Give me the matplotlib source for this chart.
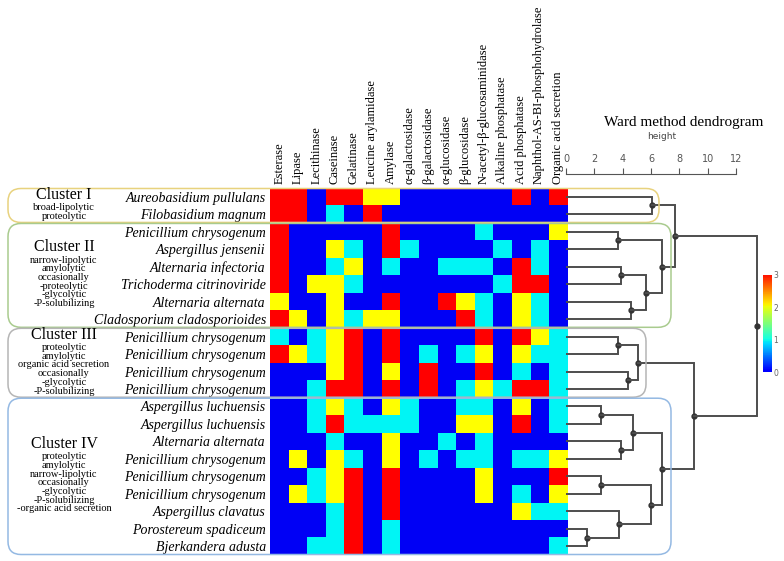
import numpy as np
import matplotlib
matplotlib.use('Agg')
import matplotlib.pyplot as plt
from matplotlib.colors import ListedColormap, LinearSegmentedColormap, Normalize
from matplotlib.patches import FancyBboxPatch
import matplotlib.cm as cm

serif = ['Liberation Serif', 'DejaVu Serif']

# --- data -------------------------------------------------------------
enzymes = ['Esterase', 'Lipase', 'Lecithinase', 'Caseinase', 'Gelatinase',
           'Leucine arylamidase', 'Amylase', 'α-galactosidase', 'β-galactosidase',
           'α-glucosidase', 'β-glucosidase', 'N-acetyl-β-glucosaminidase',
           'Alkaline phosphatase', 'Acid phosphatase',
           'Naphthol-AS-BI-phosphohydrolase', 'Organic acid secretion']

species = ['Aureobasidium pullulans', 'Filobasidium magnum',
           'Penicillium chrysogenum', 'Aspergillus jensenii', 'Alternaria infectoria',
           'Trichoderma citrinoviride', 'Alternaria alternata',
           'Cladosporium cladosporioides',
           'Penicillium chrysogenum', 'Penicillium chrysogenum',
           'Penicillium chrysogenum', 'Penicillium chrysogenum',
           'Aspergillus luchuensis', 'Aspergillus luchuensis', 'Alternaria alternata',
           'Penicillium chrysogenum', 'Penicillium chrysogenum',
           'Penicillium chrysogenum', 'Aspergillus clavatus',
           'Porostereum spadiceum', 'Bjerkandera adusta']

activity = np.array([
    [3, 3, 0, 3, 3, 2, 2, 0, 0, 0, 0, 0, 0, 3, 0, 3],
    [3, 3, 0, 1, 0, 3, 0, 0, 0, 0, 0, 0, 0, 0, 0, 0],
    [3, 0, 0, 0, 0, 0, 3, 0, 0, 0, 0, 1, 0, 0, 0, 2],
    [3, 0, 0, 2, 1, 0, 3, 1, 0, 0, 0, 0, 1, 0, 1, 0],
    [3, 0, 0, 1, 2, 0, 1, 0, 0, 1, 1, 1, 0, 3, 1, 0],
    [3, 0, 2, 2, 1, 0, 0, 0, 0, 0, 0, 0, 1, 3, 3, 0],
    [2, 0, 0, 2, 0, 0, 3, 0, 0, 3, 2, 1, 0, 2, 1, 0],
    [3, 2, 0, 2, 1, 2, 2, 0, 0, 0, 3, 1, 0, 2, 1, 0],
    [1, 0, 1, 2, 3, 0, 3, 0, 0, 0, 0, 3, 0, 3, 2, 1],
    [3, 2, 1, 2, 3, 0, 3, 0, 1, 0, 1, 2, 0, 2, 1, 1],
    [0, 0, 0, 2, 3, 0, 2, 0, 3, 0, 0, 3, 0, 1, 0, 1],
    [0, 0, 1, 3, 3, 0, 3, 0, 3, 0, 1, 2, 1, 3, 3, 1],
    [0, 0, 1, 2, 1, 0, 2, 1, 0, 0, 1, 1, 0, 2, 0, 1],
    [0, 0, 1, 3, 1, 1, 1, 1, 0, 0, 2, 2, 0, 3, 0, 1],
    [0, 0, 0, 1, 0, 0, 2, 0, 0, 1, 0, 1, 0, 0, 0, 0],
    [0, 2, 0, 2, 1, 0, 2, 0, 1, 0, 1, 1, 0, 1, 1, 2],
    [0, 0, 1, 2, 3, 0, 3, 0, 0, 0, 0, 2, 0, 0, 0, 3],
    [0, 2, 1, 2, 3, 0, 3, 0, 0, 0, 0, 2, 0, 1, 0, 2],
    [0, 0, 0, 1, 3, 0, 3, 0, 0, 0, 0, 0, 0, 2, 1, 1],
    [0, 0, 0, 1, 3, 0, 1, 0, 0, 0, 0, 0, 0, 0, 0, 0],
    [0, 0, 1, 1, 3, 0, 1, 0, 0, 0, 0, 0, 0, 0, 0, 1],
])

# ward merges: (child a, child b, height); leaves 0..20, new nodes 21..
merges = [
    (0, 1, 6.05), (2, 3, 3.65), (4, 5, 3.9), (6, 7, 4.6), (23, 24, 5.65),
    (22, 25, 6.8), (21, 26, 7.7), (8, 9, 3.65), (10, 11, 4.4), (28, 29, 5.05),
    (12, 13, 2.47), (14, 15, 3.9), (31, 32, 4.7), (16, 17, 2.47), (19, 20, 1.45),
    (18, 35, 3.75), (34, 36, 6.0), (33, 37, 6.75), (30, 38, 9.05), (27, 39, 13.45),
]

cluster_names = ['Cluster I', 'Cluster II', 'Cluster III', 'Cluster IV']
cluster_rows = [(0, 2), (2, 8), (8, 12), (12, 21)]
cluster_desc = [
    ['broad-lipolytic', 'proteolytic'],
    ['narrow-lipolytic', 'amylolytic', 'occasionally', '-proteolytic',
     '-glycolytic', '-P-solubilizing'],
    ['proteolytic', 'amylolytic', 'organic acid secretion', 'occasionally',
     '-glycolytic', '-P-solubilizing'],
    ['proteolytic', 'amylolytic', 'narrow-lipolytic', 'occasionally',
     '-glycolytic', '-P-solubilizing', '-organic acid secretion'],
]
cluster_colors = ['#E8D27E', '#A9CB8E', '#B5B5B5', '#94B9E3']

# --- layout (pixels) ---------------------------------------------------
W, H = 784, 561
hx0, hx1, hy0, hy1 = 270, 567, 188, 555
row_h = (hy1 - hy0) / len(species)
px_per_unit = 14.17

fig = plt.figure(figsize=(W / 100, H / 100), dpi=100)

def fax(x0, y0, x1, y1, **kw):
    return fig.add_axes([x0 / W, 1 - y1 / H, (x1 - x0) / W, (y1 - y0) / H], **kw)

# heatmap
cmap_cells = ListedColormap(['#0000F5', '#00F5F5', '#FFFF00', '#FF0000'])
ax_h = fax(hx0, hy0, hx1, hy1)
ax_h.imshow(activity, cmap=cmap_cells, vmin=-0.5, vmax=3.5, aspect='auto',
            interpolation='nearest')
ax_h.xaxis.tick_top()
ax_h.set_xticks(range(len(enzymes)))
ax_h.set_xticklabels(enzymes, rotation=90, fontsize=9, family=serif)
ax_h.set_yticks(range(len(species)))
ax_h.set_yticklabels(species, fontsize=10, family=serif, style='italic')
ax_h.tick_params(length=0, pad=3)
for s in ax_h.spines.values():
    s.set_visible(False)

# dendrogram
ax_d = fax(566, hy0, W, hy1)
ax_d.patch.set_visible(False)
ax_d.set_xlim(0, (W - 566) / px_per_unit)
ax_d.set_ylim(len(species) - 0.5, -0.5)
pos = {i: float(i) for i in range(len(species))}
hgt = {i: 0.0 for i in range(len(species))}
lc = '#4d4d4d'
for k, (a, b, h) in enumerate(merges):
    ya, yb = pos[a], pos[b]
    ax_d.plot([hgt[a], h, h, hgt[b]], [ya, ya, yb, yb], color=lc, lw=1.4,
              solid_joinstyle='miter')
    n = len(species) + k
    pos[n] = (ya + yb) / 2
    hgt[n] = h
    ax_d.plot(h, pos[n], 'o', color='#333333', ms=3.5)
for s in ['left', 'right', 'bottom']:
    ax_d.spines[s].set_visible(False)
ax_d.spines['top'].set_position(('outward', 10))
ax_d.spines['top'].set_bounds(0, 12)
ax_d.spines['top'].set_color('#555555')
ax_d.xaxis.tick_top()
ax_d.set_xticks(range(0, 13, 2))
ax_d.tick_params(axis='x', labelsize=7, colors='#555555', length=4)
ax_d.set_yticks([])

# colorbar
jet = plt.get_cmap('jet')
cmap_bar = LinearSegmentedColormap.from_list('tjet', jet(np.linspace(0.11, 0.89, 256)))
ax_c = fax(763, 275, 772, 372)
cb = fig.colorbar(cm.ScalarMappable(norm=Normalize(0, 3), cmap=cmap_bar), cax=ax_c)
cb.set_ticks([0, 1, 2, 3])
cb.outline.set_visible(False)
ax_c.tick_params(labelsize=5.5, length=0, pad=1, colors='#666666')

# overlay: cluster boxes and labels
ax_o = fax(0, 0, W, H)
ax_o.set_xlim(0, W)
ax_o.set_ylim(H, 0)
ax_o.axis('off')
box_right = [659, 671, 646, 671]
for name, (r0, r1), desc, col, xr in zip(cluster_names, cluster_rows, cluster_desc,
                                         cluster_colors, box_right):
    y0 = hy0 + r0 * row_h + 0.5
    y1 = hy0 + r1 * row_h - 0.5
    ax_o.add_patch(FancyBboxPatch((8, y0), xr - 8, y1 - y0,
                                  boxstyle='round,pad=0,rounding_size=13',
                                  fill=False, ec=col, lw=1.1))
    block = 13 + 8.7 * (len(desc) - 1)
    ty = (y0 + y1) / 2 - block / 2
    ax_o.text(64, ty, name, ha='center', va='center', fontsize=11.5, family=serif)
    for j, line in enumerate(desc):
        ax_o.text(64, ty + 13 + 8.7 * j, line, ha='center', va='center',
                  fontsize=7.5, family=serif)

fig.text(684 / W, 1 - 122 / H, 'Ward method dendrogram', ha='center', va='center',
         fontsize=11, family=serif)
fig.text(662 / W, 1 - 137 / H, 'height', ha='center', va='center', fontsize=6.5,
         color='#444444')

fig.savefig('out.png', dpi=100)
